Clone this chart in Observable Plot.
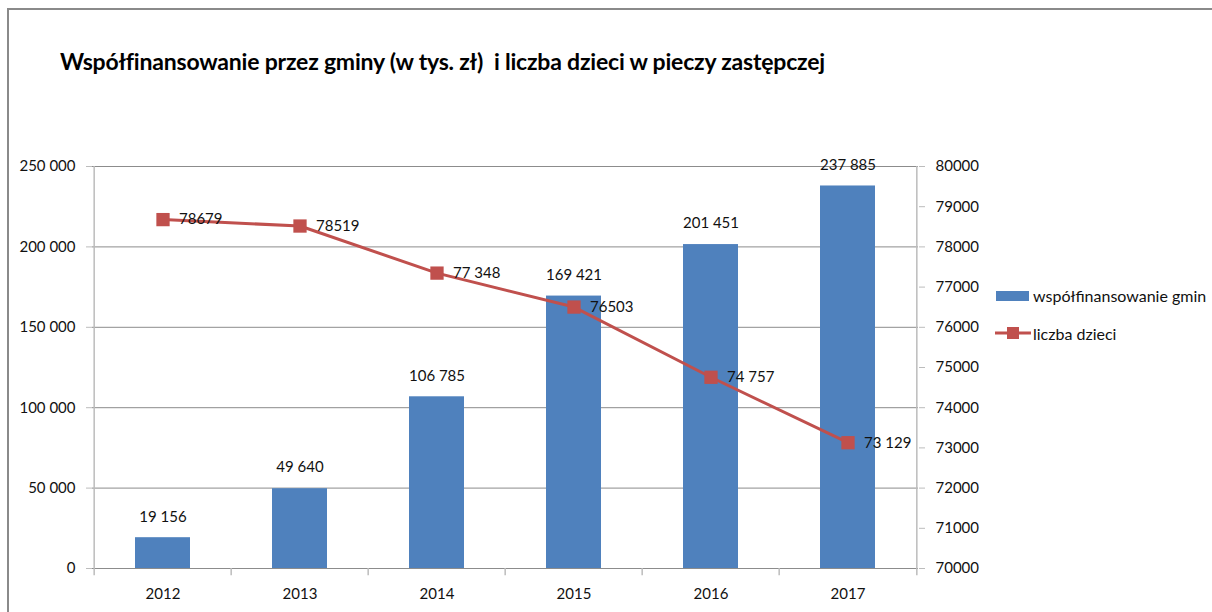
<!DOCTYPE html>
<html>
<head>
<meta charset="utf-8">
<script src="https://cdn.jsdelivr.net/npm/d3@7"></script>
<script src="https://cdn.jsdelivr.net/npm/@observablehq/plot@0.6"></script>
<style>
  html, body { margin: 0; padding: 0; background: #fff; }
  #wrap { position: relative; width: 1212px; height: 612px; overflow: hidden; font-family: Lato, "Open Sans", sans-serif; }
  #frame { position: absolute; left: 7px; top: 8px; width: 1220px; height: 620px; border-left: 2px solid #8a8a8a; border-top: 2px solid #8a8a8a; }
  #title { position: absolute; left: 60px; top: 47px; font-size: 23px; font-weight: bold; color: #000; white-space: pre; letter-spacing: -0.2px; }
  #chart { position: absolute; left: 0; top: 0; }
  .leg { position: absolute; font-size: 16px; color: #111; display: flex; align-items: center; white-space: nowrap; }
</style>
</head>
<body>
<div id="wrap">
  <div id="frame"></div>
  <div id="chart"></div>
  <div id="title"></div>
  <div class="leg" id="leg1" style="left:996px; top:286px;"><span style="display:inline-block;width:33px;height:10px;background:#4F81BD;margin-right:4px;"></span><span id="leg1t"></span></div>
  <div class="leg" id="leg2" style="left:995px; top:323px;"><svg width="36" height="20" style="margin-right:2px"><line x1="0" y1="10" x2="36" y2="10" stroke="#C0504D" stroke-width="3"/><rect x="12" y="4" width="12" height="12" fill="#C0504D"/></svg><span id="leg2t"></span></div>
</div>
<script>
const titleText = "Współfinansowanie przez gminy (w tys. zł)  i liczba dzieci w pieczy zastępczej";
const years = ["2012", "2013", "2014", "2015", "2016", "2017"];
const cofinancing = [19156, 49640, 106785, 169421, 201451, 237885];
const cofinancingLabels = ["19 156", "49 640", "106 785", "169 421", "201 451", "237 885"];
const children = [78679, 78519, 77348, 76503, 74757, 73129];
const childrenLabels = ["78679", "78519", "77 348", "76503", "74 757", "73 129"];
const leftTicks = [0, 50000, 100000, 150000, 200000, 250000];
const leftTickLabels = ["0", "50 000", "100 000", "150 000", "200 000", "250 000"];
const rightTicks = [70000, 71000, 72000, 73000, 74000, 75000, 76000, 77000, 78000, 79000, 80000];
const seriesNames = ["współfinansowanie gmin", "liczba dzieci"];

document.getElementById("title").textContent = titleText;
document.getElementById("leg1t").textContent = seriesNames[0];
document.getElementById("leg2t").textContent = seriesNames[1];

const leftMax = 250000, rightMin = 70000, rightMax = 80000;
const toLeft = v => (v - rightMin) * leftMax / (rightMax - rightMin);

const W = 1212, H = 612, mL = 92, mR = 294, mT = 166, mB = 44;
const step = (W - mL - mR) / years.length;

const barData = years.map((y, i) => ({year: y, value: cofinancing[i], label: cofinancingLabels[i]}));
const lineData = years.map((y, i) => ({year: y, value: toLeft(children[i]), label: childrenLabels[i]}));

const gridColor = "#8c8c8c";
const axisColor = "#bcbcbc";
const font = "Lato, 'Open Sans', sans-serif";

const chart = Plot.plot({
  width: W, height: H,
  marginLeft: mL, marginRight: mR, marginTop: mT, marginBottom: mB,
  style: {fontFamily: font, fontSize: "15px", color: "#111", background: "transparent", overflow: "visible"},
  x: {type: "band", domain: years, padding: 0},
  y: {domain: [0, leftMax]},
  marks: [
    Plot.ruleY(leftTicks.slice(1), {stroke: gridColor, strokeWidth: 1}),
    Plot.ruleY([0], {stroke: gridColor, strokeWidth: 1}),
    Plot.ruleX([years[0]], {dx: -step / 2, y1: 0, y2: leftMax, stroke: axisColor, strokeWidth: 1.5}),
    Plot.ruleX([years[years.length - 1]], {dx: step / 2, y1: 0, y2: leftMax, stroke: axisColor, strokeWidth: 1.5}),
    Plot.ruleX(years, {dx: -step / 2, y1: 0, y2: -4500, stroke: axisColor, strokeWidth: 1.5}),
    Plot.ruleX([years[years.length - 1]], {dx: step / 2, y1: 0, y2: -4500, stroke: axisColor, strokeWidth: 1.5}),
    Plot.axisY({anchor: "left", ticks: leftTicks, tickFormat: d => leftTickLabels[leftTicks.indexOf(d)], tickSize: 6, tickPadding: 11, stroke: axisColor, fontSize: 15, label: null}),
    Plot.axisY({anchor: "right", ticks: rightTicks.map(toLeft), tickFormat: d => String(Math.round(rightMin + d * (rightMax - rightMin) / leftMax)), tickSize: 6, tickPadding: 11, stroke: axisColor, fontSize: 15, label: null}),
    Plot.axisX({tickSize: 0, tickPadding: 20, fontSize: 15, label: null}),
    Plot.barY(barData, {x: "year", y: "value", fill: "#4F81BD", insetLeft: 41, insetRight: 41}),
    Plot.text(barData, {x: "year", y: "value", text: "label", dy: -21, fontSize: 15, fill: "#111"}),
    Plot.lineY(lineData, {x: "year", y: "value", stroke: "#C0504D", strokeWidth: 3}),
    Plot.dot(lineData, {x: "year", y: "value", symbol: "square", r: 7.5, fill: "#C0504D", stroke: "none"}),
    Plot.text(lineData, {x: "year", y: "value", text: "label", textAnchor: "start", dx: 16, fontSize: 15, fill: "#111"})
  ]
});
document.getElementById("chart").appendChild(chart);
</script>
</body>
</html>
